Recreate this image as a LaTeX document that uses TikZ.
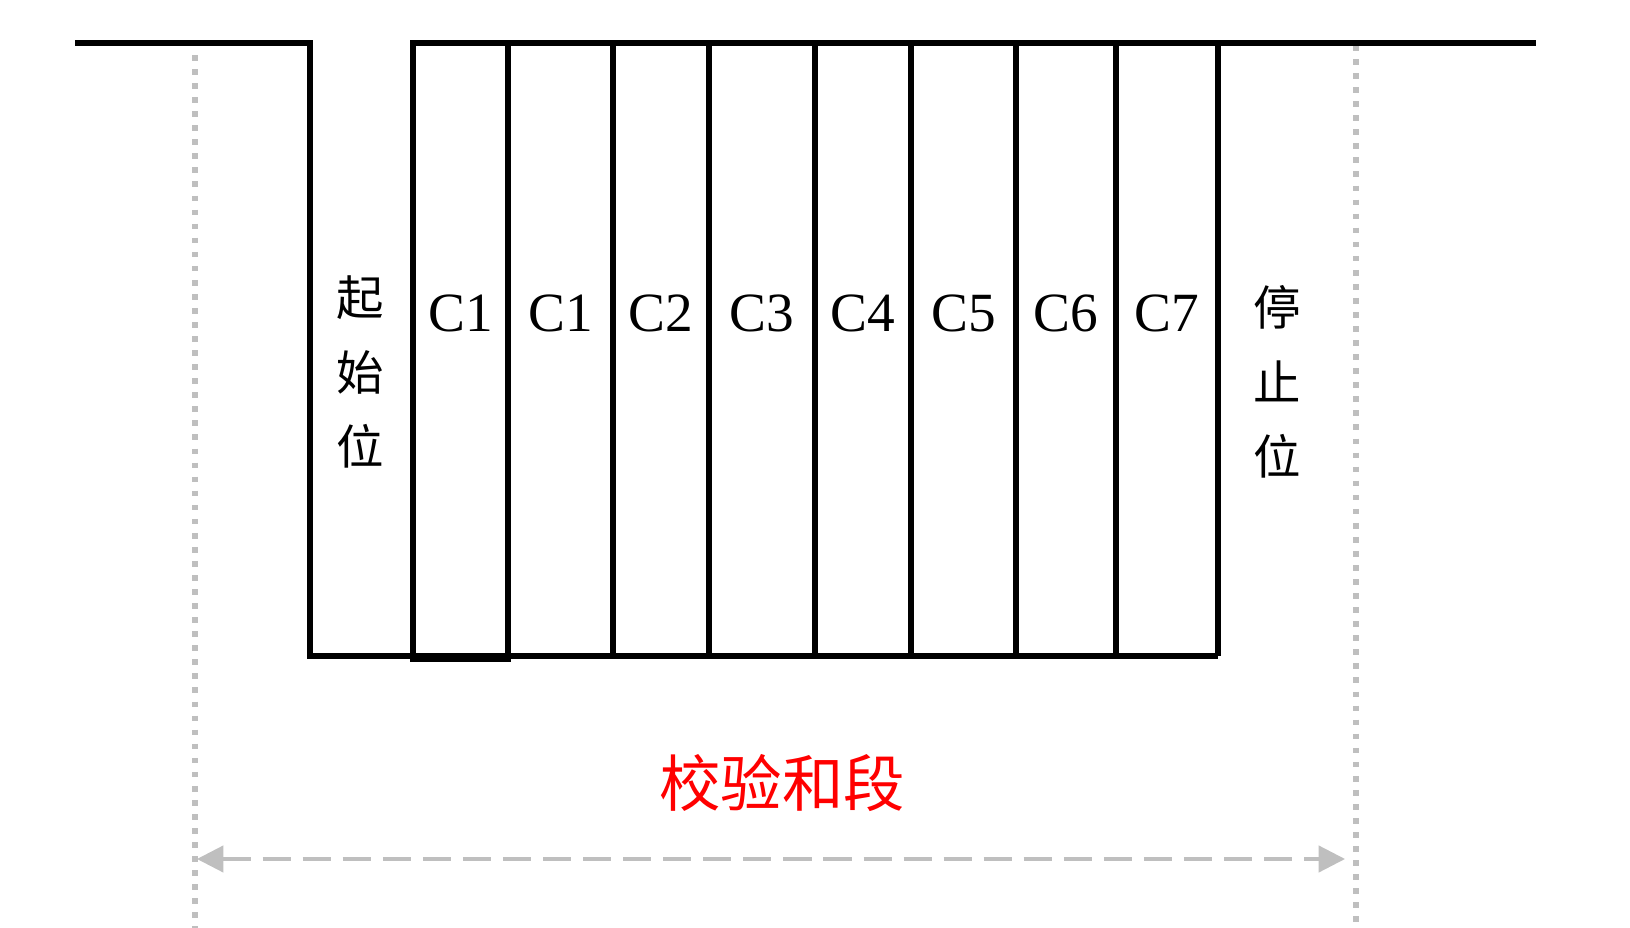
\documentclass[tikz,border=0pt]{standalone}
\usepackage{fontspec}
\setmainfont{Liberation Serif}
\newfontfamily\cjk{Noto Sans CJK SC}
\usetikzlibrary{arrows.meta}
\definecolor{guide}{RGB}{191,191,191}
\definecolor{sumred}{RGB}{255,0,0}
\begin{document}
\begin{tikzpicture}[x=0.02cm,y=-0.02cm,
  wave/.style={line width=3.7pt, line cap=butt, line join=miter},
  guideline/.style={guide, line width=3.6pt, dash pattern=on 3.2pt off 4.8pt},
  spanarrow/.style={guide, line width=1.8pt, dash pattern=on 16pt off 6.8pt,
    {Triangle[length=15pt,width=15pt]}-{Triangle[length=15pt,width=15pt]}},
  bitlabel/.style={font=\fontsize{31.5pt}{36pt}\selectfont, inner sep=0pt},
  vlabel/.style={font=\cjk\fontsize{27pt}{42.5pt}\selectfont, align=center, inner sep=0pt},
  sumlabel/.style={font=\cjk\fontsize{35pt}{40pt}\selectfont, text=sumred, inner sep=0pt},
]
\useasboundingbox (0,0) rectangle (1630,928);

% guide lines
\draw[guideline] (195,55) -- (195,928);
\draw[guideline] (1356,45) -- (1356,928);

% waveform
\draw[wave] (75,43) -- (310,43) -- (310,656) -- (1218,656);
\draw[wave] (413,43) -- (1536,43);
\draw[wave] (413,43) rectangle (508,659);
\foreach \xx in {613,709,815,911,1016,1116,1218}
  \draw[wave] (\xx,43) -- (\xx,656);

% labels
\node[vlabel] (start) at (360,372) {起\\始\\位};
\node[bitlabel] (b0) at (460.5,313) {C1};
\node[bitlabel] (b1) at (560.5,313) {C1};
\node[bitlabel] (b2) at (661,313) {C2};
\node[bitlabel] (b3) at (762,313) {C3};
\node[bitlabel] (b4) at (863,313) {C4};
\node[bitlabel] (b5) at (963.5,313) {C5};
\node[bitlabel] (b6) at (1066,313) {C6};
\node[bitlabel] (b7) at (1167,313) {C7};
\node[vlabel] (stop) at (1277,382) {停\\止\\位};
\node[sumlabel] (sum) at (782,783) {校验和段};

% span arrow
\coordinate (spanL) at (197,859);
\coordinate (spanR) at (1345,859);
\draw[spanarrow] (spanL) -- (spanR);
\end{tikzpicture}
\end{document}
